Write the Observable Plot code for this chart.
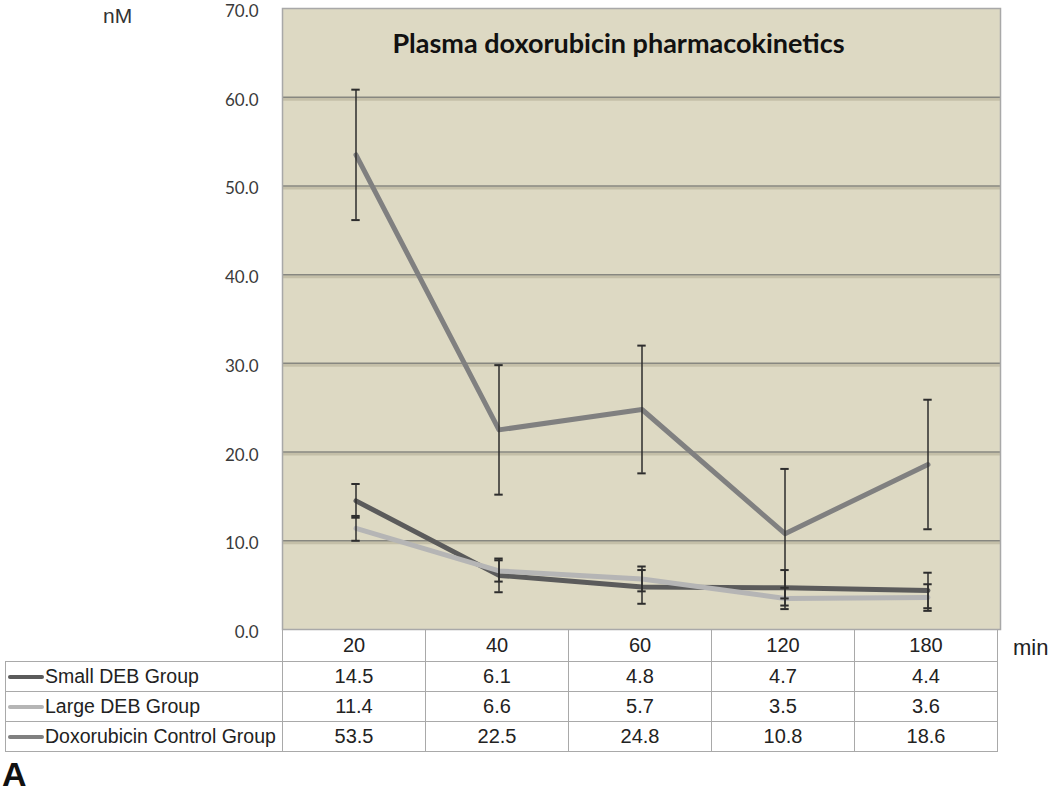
<!DOCTYPE html>
<html>
<head>
<meta charset="utf-8">
<script src="https://cdn.jsdelivr.net/npm/d3@7"></script>
<script src="https://cdn.jsdelivr.net/npm/@observablehq/plot@0.6"></script>
<style>
  html, body { margin:0; padding:0; background:#fff; }
  #wrap { position:relative; width:1050px; height:792px; overflow:hidden; font-family:"Liberation Sans", Arial, sans-serif; }
  #chart { position:absolute; left:0; top:0; }
  table.data { position:absolute; left:5px; top:629px; border-collapse:collapse; font-size:20px; color:#222; table-layout:fixed; }
  table.data td { border:1.5px solid #a9a9a9; text-align:center; padding:0; height:29px; line-height:29px; white-space:nowrap; }
  table.data td.lab { text-align:left; padding-left:2px; font-size:19.5px; }
  table.data tr.head td { height:31px; line-height:31px; }
  table.data tr.head td.blank { border:none; border-right:1.5px solid #a9a9a9; }
  .sw { display:inline-block; width:36px; height:4px; border-radius:2px; vertical-align:middle; margin-right:1px; position:relative; top:-1px; }
  #min { position:absolute; left:1013px; top:634px; font-size:22px; line-height:28px; color:#222; }
  #letterA { position:absolute; left:2px; top:757px; font-size:34px; line-height:34px; font-weight:bold; color:#111; font-family:"Liberation Sans", Arial, sans-serif; }
  #unit { position:absolute; left:103px; top:4px; font-size:21px; line-height:24px; color:#333; }
</style>
</head>
<body>
<div id="wrap">
  <div id="chart"></div>
  <div id="unit"></div>
  <div id="min"></div>
  <div id="letterA">A</div>
</div>
<script>
const times = ["20", "40", "60", "120", "180"];
const seriesNames = ["Small DEB Group", "Large DEB Group", "Doxorubicin Control Group"];
const smallDEB = [14.5, 6.1, 4.8, 4.7, 4.4];
const largeDEB = [11.4, 6.6, 5.7, 3.5, 3.6];
const controlGroup = [53.5, 22.5, 24.8, 10.8, 18.6];
const smallErr = [1.9, 1.9, 1.9, 2.0, 2.0];
const largeErr = [1.4, 1.2, 1.4, 1.2, 1.5];
const controlErr = [7.35, 7.3, 7.2, 7.3, 7.3];
const yTicks = [0, 10, 20, 30, 40, 50, 60, 70];
const seriesColors = ["#5b5b5b", "#b5b5b5", "#808080"];
const titleText = "Plasma doxorubicin pharmacokinetics";
const yUnit = "nM";
const xUnit = "min";

document.getElementById("unit").textContent = yUnit;
document.getElementById("min").textContent = xUnit;

const seriesValues = [smallDEB, largeDEB, controlGroup];
const seriesErrs = [smallErr, largeErr, controlErr];

const rows = seriesNames.flatMap((name, i) =>
  times.map((t, j) => ({series: name, time: t, value: seriesValues[i][j], err: seriesErrs[i][j]}))
);

const W = 1050, ML = 282, MR = 50;
const band = (W - ML - MR) / times.length;
const capInset = (band - 9) / 2;

const chart = Plot.plot({
  width: W,
  height: 630,
  marginLeft: ML,
  marginRight: MR,
  marginTop: 8,
  marginBottom: 1,
  style: {background: "transparent", overflow: "visible"},
  x: {type: "band", domain: times, padding: 0, axis: null},
  y: {domain: [0, 70], axis: null},
  marks: [
    Plot.frame({fill: "#ddd9c3", stroke: null}),
    Plot.gridY(yTicks.slice(1, -1), {stroke: "#c4bfa8", strokeOpacity: 1, strokeWidth: 3, dy: 2}),
    Plot.gridY(yTicks.slice(1, -1), {stroke: "#878780", strokeOpacity: 1, strokeWidth: 1.5}),
    Plot.frame({stroke: "#a8a8a8", strokeWidth: 1.5}),
    Plot.axisY({ticks: yTicks, tickFormat: d3.format(".1f"), tickSize: 0, tickPadding: 24, dy: 3, fontSize: 17, fontFamily: "Lato, 'Open Sans', sans-serif", fill: "#3a3a3a", label: null}),
    Plot.text([titleText], {frameAnchor: "top", text: d => d, dx: -23, dy: 25, fontSize: 27, fontWeight: "bold", fontFamily: "Lato, 'Open Sans', sans-serif", fill: "#111"}),
    ...seriesNames.map((name, i) =>
      Plot.line(rows.filter(d => d.series === name), {x: "time", y: "value", stroke: seriesColors[i], strokeWidth: 5, strokeLinejoin: "round"})
    ),
    Plot.ruleX(rows, {x: "time", y1: d => d.value - d.err, y2: d => d.value + d.err, stroke: "#2d2d2d", strokeWidth: 1.5}),
    Plot.tickY(rows, {x: "time", y: d => d.value + d.err, stroke: "#2d2d2d", strokeWidth: 2, insetLeft: capInset, insetRight: capInset}),
    Plot.tickY(rows, {x: "time", y: d => d.value - d.err, stroke: "#2d2d2d", strokeWidth: 2, insetLeft: capInset, insetRight: capInset})
  ]
});
document.getElementById("chart").appendChild(chart);

// Data table below the plot, columns aligned with the x band scale
const xs = chart.scale("x");
const bw = xs.bandwidth;
const table = document.createElement("table");
table.className = "data";
const colgroup = document.createElement("colgroup");
const c0 = document.createElement("col");
c0.style.width = (ML - 5) + "px";
colgroup.appendChild(c0);
times.forEach(() => { const c = document.createElement("col"); c.style.width = bw + "px"; colgroup.appendChild(c); });
table.appendChild(colgroup);
const head = document.createElement("tr");
head.className = "head";
const blank = document.createElement("td");
blank.className = "blank";
head.appendChild(blank);
times.forEach(t => { const td = document.createElement("td"); td.textContent = t; head.appendChild(td); });
table.appendChild(head);
seriesNames.forEach((name, i) => {
  const tr = document.createElement("tr");
  const lab = document.createElement("td");
  lab.className = "lab";
  const sw = document.createElement("span");
  sw.className = "sw";
  sw.style.background = seriesColors[i];
  lab.appendChild(sw);
  lab.appendChild(document.createTextNode(name));
  tr.appendChild(lab);
  seriesValues[i].forEach(v => { const td = document.createElement("td"); td.textContent = v.toFixed(1); tr.appendChild(td); });
  table.appendChild(tr);
});
document.getElementById("wrap").appendChild(table);
</script>
</body>
</html>
